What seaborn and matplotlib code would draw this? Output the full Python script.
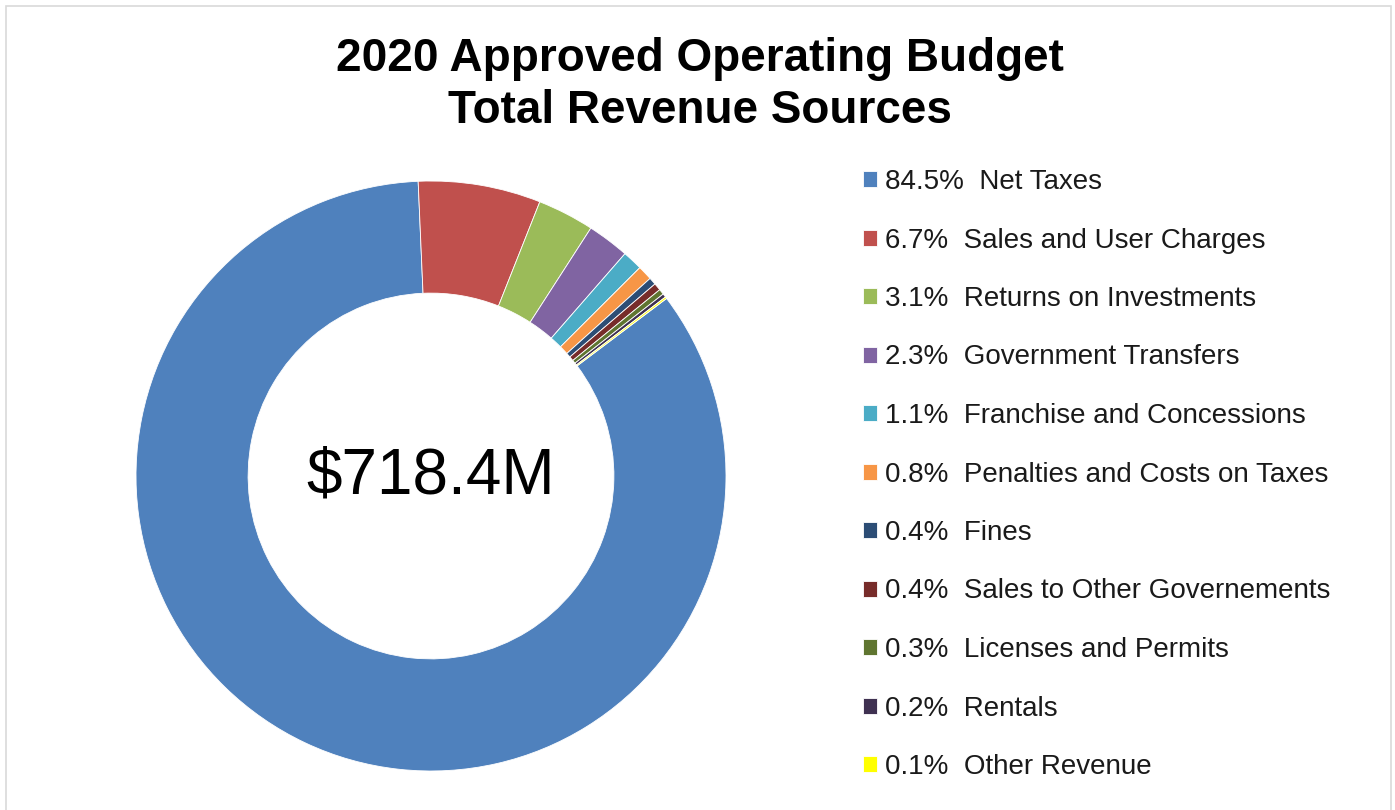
import matplotlib
matplotlib.use("Agg")
import matplotlib.pyplot as plt
import seaborn as sns

categories = ['Net Taxes', 'Sales and User Charges', 'Returns on Investments',
              'Government Transfers', 'Franchise and Concessions',
              'Penalties and Costs on Taxes', 'Fines', 'Sales to Other Governements',
              'Licenses and Permits', 'Rentals', 'Other Revenue']
shares = [84.5, 6.7, 3.1, 2.3, 1.1, 0.8, 0.4, 0.4, 0.3, 0.2, 0.1]
colors = ['#4F81BD', '#C0504D', '#9BBB59', '#8064A2', '#4BACC6', '#F79646',
          '#2C4D75', '#772C2A', '#5F7530', '#3F3151', '#FFFF00']
total_label = '$718.4M'

sns.set_theme(style="white")
plt.rcParams['font.family'] = ['Liberation Sans', 'DejaVu Sans']
plt.rcParams['text.color'] = 'black'
palette = sns.color_palette(colors)

W, H = 1395, 810
fig = plt.figure(figsize=(W / 100, H / 100), dpi=100)

# donut, centre (431, 476) px, radius 295 px
cx, cy, r = 431, 476, 295
ax = fig.add_axes([(cx - r) / W, (H - cy - r) / H, 2 * r / W, 2 * r / H])
wedges, _ = ax.pie(shares, colors=palette, startangle=37, counterclock=False,
                   radius=1, wedgeprops=dict(width=0.38, edgecolor='white', linewidth=0.6))
ax.set_xlim(-1, 1)
ax.set_ylim(-1, 1)
ax.text(0, 0, total_label, ha='center', va='center', fontsize=46, color='black')

fig.text(0.502, 1 - 85 / H, '2020 Approved Operating Budget\nTotal Revenue Sources',
         ha='center', va='center', fontsize=33, fontweight='bold', linespacing=1.26,
         color='black')

labels = ['{}%  {}'.format(s, c) for s, c in zip(shares, categories)]
leg = fig.legend(wedges, labels, loc='upper left', bbox_to_anchor=(863 / W, 1 - 169 / H),
                 frameon=False, fontsize=20, handlelength=0.5, handleheight=0.5,
                 handletextpad=0.3, labelspacing=1.17, borderaxespad=0, borderpad=0)
for t in leg.get_texts():
    t.set_color('#1A1A1A')

# light frame around the chart
fig.patches.append(plt.Rectangle((6 / W, -0.01), (1391 - 6) / W, 1 - 6 / H + 0.01,
                                 transform=fig.transFigure, fill=False,
                                 edgecolor='#D9D9D9', linewidth=1.2))

fig.savefig('out.png', dpi=100, facecolor='white')
